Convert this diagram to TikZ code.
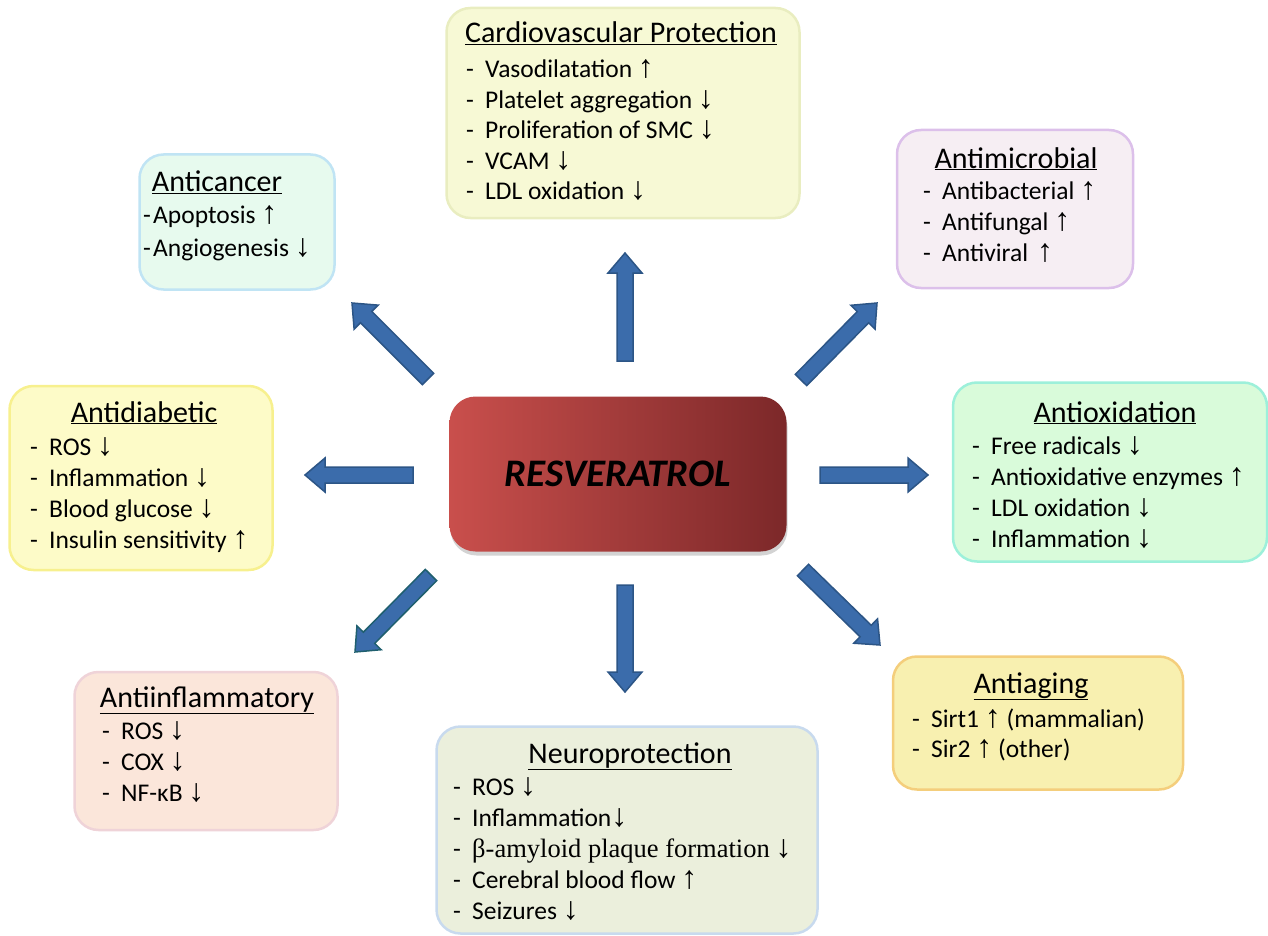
\documentclass[tikz,border=0pt]{standalone}
\usepackage{fontspec}
\setmainfont{Carlito}
\newfontfamily\arrowfont[Scale=1.25]{Liberation Sans}
\newfontfamily\timesfont{Liberation Serif}
\usetikzlibrary{calc,shadows}

\definecolor{arrowfill}{HTML}{3B6CAB}
\definecolor{arrowline}{HTML}{2C5586}
\definecolor{arrowteal}{HTML}{1F5F6E}
\definecolor{resleft}{HTML}{C94F4C}
\definecolor{resright}{HTML}{7C2829}
\definecolor{cardiofill}{HTML}{F7F9D5}  \definecolor{cardioline}{HTML}{E9EDC0}
\definecolor{cancerfill}{HTML}{E7FAEE}  \definecolor{cancerline}{HTML}{C0E4F4}
\definecolor{microbfill}{HTML}{F6EEF3}  \definecolor{microbline}{HTML}{DCC0EA}
\definecolor{diabfill}{HTML}{FDFBC8}    \definecolor{diabline}{HTML}{F7F08E}
\definecolor{oxidfill}{HTML}{D9FBDA}    \definecolor{oxidline}{HTML}{9DF0DA}
\definecolor{inflamfill}{HTML}{FBE6DA}  \definecolor{inflamline}{HTML}{EFD3D8}
\definecolor{neurofill}{HTML}{EBEFDC}   \definecolor{neuroline}{HTML}{C8DAEE}
\definecolor{agingfill}{HTML}{F8F0B0}   \definecolor{agingline}{HTML}{F4CE7C}

\newcommand{\up}{{\arrowfont ↑}}
\newcommand{\dn}{{\arrowfont ↓}}
\newcommand{\itm}[2][19pt]{\makebox[#1][l]{-}#2}

\begin{document}
\begin{tikzpicture}[x=1pt,y=-1pt]
   \tikzstyle{panel}=[rounded corners=24pt, line width=2.5pt, inner sep=0pt]
   \tikzstyle{head}=[anchor=base, inner sep=0pt, font=\fontsize{30}{36}\selectfont]
   % anchor base of a multi-line node = baseline of its last line
   \tikzstyle{items}=[anchor=base west, align=left, inner sep=0pt, font=\fontsize{25.5}{31}\selectfont]
   \tikzstyle{blockarrow}=[fill=arrowfill, draw=arrowline, line width=1.5pt, line join=miter,
      to path={($(\tikztostart)!8pt!90:(\tikztotarget)$)
         -- ($(\tikztotarget)!20pt!(\tikztostart)!8pt!90:(\tikztotarget)$)
         -- ($(\tikztotarget)!20pt!(\tikztostart)!17pt!90:(\tikztotarget)$)
         -- (\tikztotarget)
         -- ($(\tikztotarget)!20pt!(\tikztostart)!17pt!-90:(\tikztotarget)$)
         -- ($(\tikztotarget)!20pt!(\tikztostart)!8pt!-90:(\tikztotarget)$)
         -- ($(\tikztostart)!8pt!-90:(\tikztotarget)$) -- cycle}]
   \useasboundingbox (0,0) rectangle (1268,936);

   % centre
   \node[rounded corners=26pt, left color=resleft, right color=resright,
         drop shadow={opacity=0.35, shadow xshift=1pt, shadow yshift=-4pt},
         minimum width=337, minimum height=155, font=\fontsize{39}{45}\selectfont\bfseries\itshape]
         (resv) at (618,474) {RESVERATROL};

   % effect panels
   \node[panel, fill=cardiofill, draw=cardioline, minimum width=353, minimum height=210] (cardio) at (623,113) {};
   \node[head] (cardiot) at (621,43) {\underline{Cardiovascular Protection}};
   \node[items, font=\fontsize{25.5}{30.5}\selectfont] (cardiol) at (466,200) {\itm{Vasodilatation \up}\\ \itm{Platelet aggregation \dn}\\ \itm{Proliferation of SMC \dn}\\ \itm{VCAM \dn}\\ \itm{LDL oxidation \dn}};

   \node[panel, fill=cancerfill, draw=cancerline, minimum width=195, minimum height=135] (cancer) at (237,222) {};
   \node[head] (cancert) at (217,192) {\underline{Anticancer}};
   \node[items, font=\fontsize{25.5}{33}\selectfont] (cancerl) at (143,256) {\itm[10pt]{Apoptosis \up}\\ \itm[10pt]{Angiogenesis \dn}};

   \node[panel, fill=microbfill, draw=microbline, minimum width=236, minimum height=158] (microb) at (1015,209) {};
   \node[head] (microbt) at (1016,168) {\underline{Antimicrobial}};
   \node[items] (microbl) at (923,261) {\itm{Antibacterial \up}\\ \itm{Antifungal \up}\\ \itm{Antiviral\hspace{9pt}\up}};

   \node[panel, fill=diabfill, draw=diabline, minimum width=263, minimum height=184] (diab) at (141,478) {};
   \node[head] (diabt) at (144,422) {\underline{Antidiabetic}};
   \node[items] (diabl) at (30,548) {\itm{ROS \dn}\\ \itm{Inflammation \dn}\\ \itm{Blood glucose \dn}\\ \itm{Insulin sensitivity \up}};

   \node[panel, fill=oxidfill, draw=oxidline, minimum width=314, minimum height=179] (oxid) at (1110,472) {};
   \node[head] (oxidt) at (1115,422) {\underline{Antioxidation}};
   \node[items] (oxidl) at (972,547) {\itm{Free radicals \dn}\\ \itm{Antioxidative enzymes \up}\\ \itm{LDL oxidation \dn}\\ \itm{Inflammation \dn}};

   \node[panel, fill=inflamfill, draw=inflamline, minimum width=263, minimum height=158] (inflam) at (206,751) {};
   \node[head] (inflamt) at (207,707) {\underline{Antiinflammatory}};
   \node[items] (inflaml) at (102,801) {\itm{ROS \dn}\\ \itm{COX \dn}\\ \itm{NF-κB \dn}};

   \node[panel, fill=neurofill, draw=neuroline, minimum width=381, minimum height=207] (neuro) at (627,830) {};
   \node[head] (neurot) at (630,763) {\underline{Neuroprotection}};
   \node[items] (neurol) at (453,919) {\itm{ROS \dn}\\ \itm{Inflammation\dn}\\ \itm{{\timesfont\fontsize{26.5}{31}\selectfont β-amyloid plaque formation} \dn}\\ \itm{Cerebral blood flow \up}\\ \itm{Seizures \dn}};

   \node[panel, fill=agingfill, draw=agingline, minimum width=290, minimum height=133] (aging) at (1038,723) {};
   \node[head] (agingt) at (1031,693) {\underline{Antiaging}};
   \node[items, font=\fontsize{25.5}{30}\selectfont] (agingl) at (912,757) {\itm{Sirt1 \up\ (mammalian)}\\ \itm{Sir2 \up\ (other)}};

   % block arrows out of the centre
   \foreach \nm/\sx/\sy/\ex/\ey in {up/625/361/625/253, ne/801/380/877/303, nw/428/379/352/303,
         lt/413/475/305/475, rt/820/475/928/475, dn/625/585/625/692, se/803/570/880/645} {
      \coordinate (\nm S) at (\sx,\sy);
      \coordinate (\nm E) at (\ex,\ey);
      \draw[blockarrow] (\nm S) to (\nm E);
   }
   \coordinate (swS) at (431,575);
   \coordinate (swE) at (355,652);
   \draw[blockarrow, draw=arrowteal] (swS) to (swE);
\end{tikzpicture}
\end{document}
